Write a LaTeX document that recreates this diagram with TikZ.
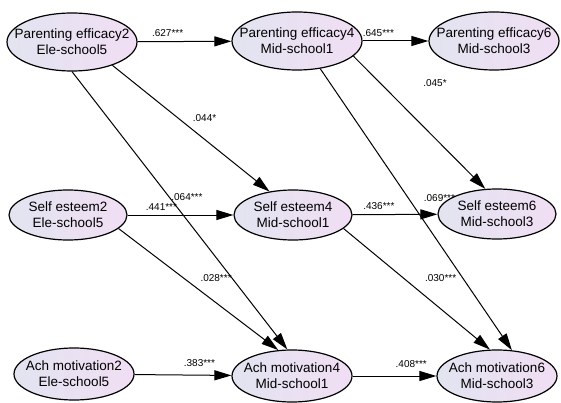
\documentclass[tikz,border=0pt]{standalone}
\usepackage{fontspec}
\setmainfont{Liberation Sans}
\usetikzlibrary{arrows.meta,shapes.geometric}
\definecolor{ellleft}{RGB}{226,228,240}
\definecolor{ellright}{RGB}{241,222,244}
\tikzset{
  latent/.style  = {shape=ellipse, draw, line width=1.2pt, align=center,
                    inner sep=-20pt, left color=ellleft, right color=ellright,
                    font=\fontsize{13.5}{16}\selectfont},
  toprow/.style  = {latent, minimum width=130pt, minimum height=58pt},
  midrow/.style  = {latent, minimum width=118pt, minimum height=50pt},
  lowrow/.style  = {latent, minimum width=120pt, minimum height=52pt},
  regpath/.style = {draw, line width=1pt, -{Triangle[length=17pt,width=10pt]}},
  coef/.style    = {font=\fontsize{10}{12}\selectfont, inner sep=1pt}
}

\begin{document}
\begin{tikzpicture}[x=1pt, y=-1pt]
  \useasboundingbox (0,0) rectangle (561,403);

  \node[toprow] (pe2) at (72,42)  {Parenting efficacy2\\Ele-school5};
  \node[toprow] (pe4) at (297,41) {Parenting efficacy4\\Mid-school1};
  \node[toprow] (pe6) at (494,41) {Parenting efficacy6\\Mid-school3};

  \node[midrow] (se2) at (68,215)  {Self esteem2\\Ele-school5};
  \node[midrow] (se4) at (293,215) {Self esteem4\\Mid-school1};
  \node[midrow] (se6) at (497,214) {Self esteem6\\Mid-school3};

  \node[lowrow] (am2) at (74,374)  {Ach motivation2\\Ele-school5};
  \node[lowrow] (am4) at (292,376) {Ach motivation4\\Mid-school1};
  \node[lowrow] (am6) at (497,376) {Ach motivation6\\Mid-school3};

  \draw[regpath] (pe2) -- node[coef, pos=0.32, above=3pt] (c627) {.627***} (pe4);
  \draw[regpath] (pe4) -- node[coef, pos=0.24, above=3pt] (c645) {.645***} (pe6);
  \draw[regpath] (pe2.-30) -- node[coef, pos=0.42, right=13pt] (c044) {.044*} (se4.135);
  \draw[regpath] (pe2.south) -- node[coef, pos=0.45, right=1pt] (c064) {.064***} (am4.100);
  \draw[regpath] (se2) -- node[coef, pos=0.32, above=3pt] (c441) {.441***} (se4);
  \draw[regpath] (se2.-15) -- node[coef, pos=0.41, right=15pt] (c028) {.028***} (am4.118);
  \draw[regpath] (pe4.-15) -- node[coef, pos=0.2, right=42pt] (c045) {.045*} (se6.115);
  \draw[regpath] (pe4.-50) -- node[coef, pos=0.46, right=14pt] (c069) {.069***} (am6.60);
  \draw[regpath] (se4) -- node[coef, pos=0.31, above=3pt] (c436) {.436***} (se6);
  \draw[regpath] (se4.-15) -- node[coef, pos=0.41, right=20pt] (c030) {.030***} (am6.105);
  \draw[regpath] (am2) -- node[coef, pos=0.67, above=7pt] (c383) {.383***} (am4);
  \draw[regpath] (am4) -- node[coef, pos=0.70, above=7pt] (c408) {.408***} (am6);
\end{tikzpicture}
\end{document}
